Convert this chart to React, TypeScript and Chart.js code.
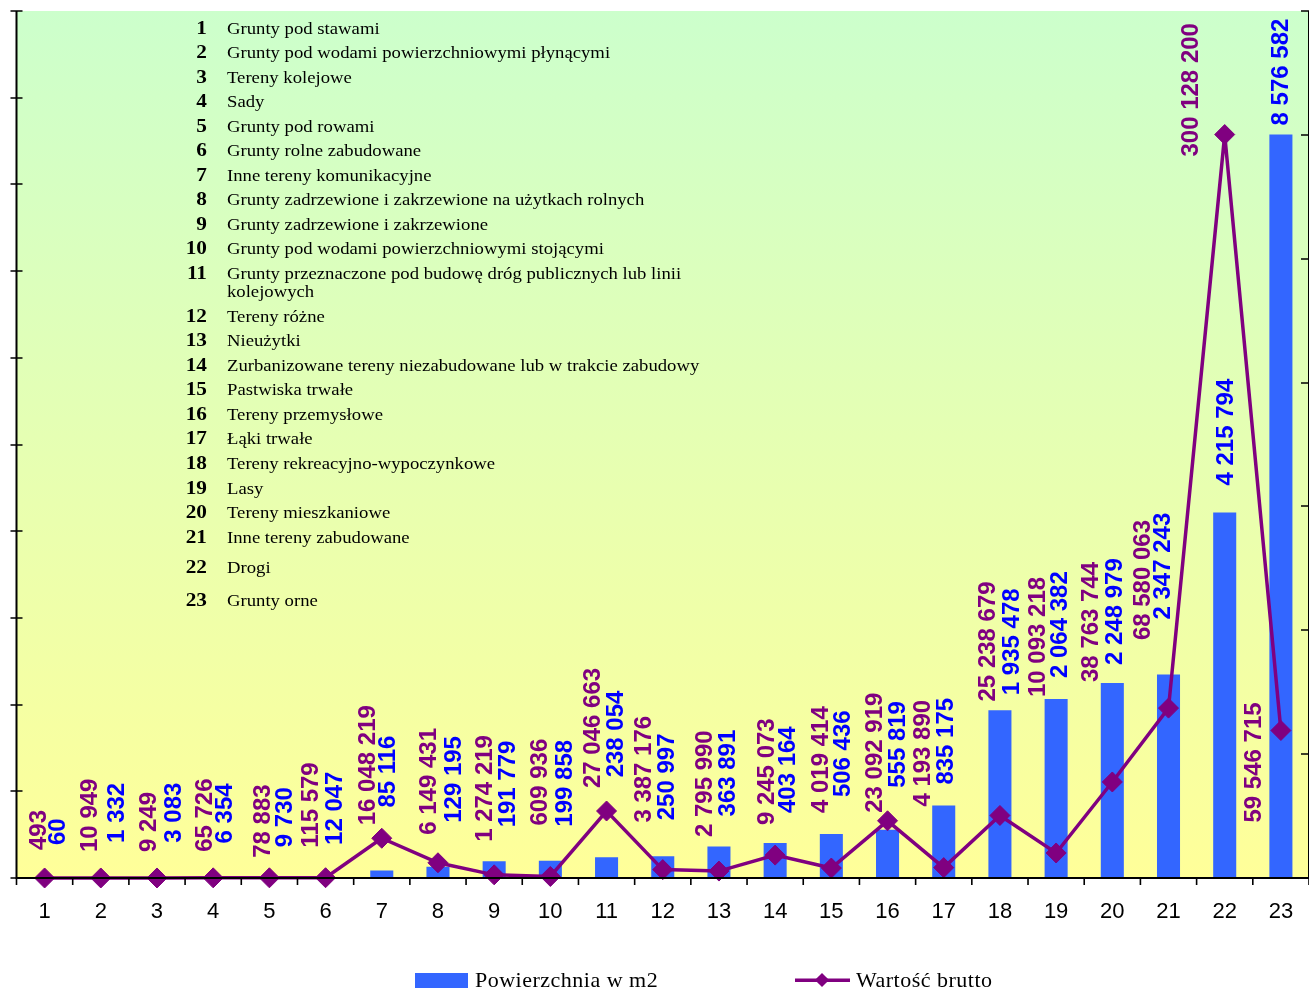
import React, { useEffect, useRef } from "react";
import { Chart, registerables } from "chart.js";

Chart.register(...registerables);

// ---------- data ----------
const categories = [
  "1", "2", "3", "4", "5", "6", "7", "8", "9", "10", "11", "12",
  "13", "14", "15", "16", "17", "18", "19", "20", "21", "22", "23",
];

const categoryNames = [
  "Grunty pod stawami",
  "Grunty pod wodami powierzchniowymi płynącymi",
  "Tereny kolejowe",
  "Sady",
  "Grunty pod rowami",
  "Grunty rolne zabudowane",
  "Inne tereny komunikacyjne",
  "Grunty zadrzewione i zakrzewione na użytkach rolnych",
  "Grunty zadrzewione i zakrzewione",
  "Grunty pod wodami powierzchniowymi stojącymi",
  "Grunty przeznaczone pod budowę dróg publicznych lub linii\nkolejowych",
  "Tereny różne",
  "Nieużytki",
  "Zurbanizowane tereny niezabudowane lub w trakcie zabudowy",
  "Pastwiska trwałe",
  "Tereny przemysłowe",
  "Łąki trwałe",
  "Tereny rekreacyjno-wypoczynkowe",
  "Lasy",
  "Tereny mieszkaniowe",
  "Inne tereny zabudowane",
  "Drogi",
  "Grunty orne",
];

const areaM2 = [
  60, 1332, 3083, 6354, 9730, 12047, 85116, 129195, 191779, 199858, 238054,
  250997, 363891, 403164, 506436, 555819, 835175, 1935478, 2064382, 2248979,
  2347243, 4215794, 8576582,
];

const grossValue = [
  493, 10949, 9249, 65726, 78883, 115579, 16048219, 6149431, 1274219, 609936,
  27046663, 3387176, 2795990, 9245073, 4019414, 23092919, 4193890, 25238679,
  10093218, 38763744, 68580063, 300128200, 59546715,
];

const seriesNames = ["Powierzchnia w m2", "Wartość brutto"];

// axis ranges (ticks unlabeled)
const areaAxisMax = 10000000;
const areaAxisStep = 1000000;
const valueAxisMax = 350000000;
const valueAxisStep = 50000000;

// label placement: [dx, dy] in px relative to the drawn point / bar top
const valueLabelOffsets = [
  [-7, -28], [-12, -26], [-10, -26], [-10, -26], [-8, -20], [-16, -30],
  [-15, -13], [-11, -28], [-11, -33], [-12, -51], [-15, -23], [-20, -47],
  [-16, -34], [-10, -30], [-12, -55], [-14, -8], [-22, -61], [-14, -114],
  [-20, -156], [-23, -100], [-27, -68], [-35, 22], [-28, 92],
];
const areaLabelOffsets = [
  [12, -33], [15, -35], [15, -35], [10, -34], [14, -30], [8, -32],
  [5, -63], [14, -44], [12, -34], [13, -34], [8, -80], [3, -36],
  [7, -30], [11, -30], [10, -37], [9, -42], [1, -21], [10, -15],
  [2, -21], [1, -18], [-7, -55], [0, -27], [-1, -9],
];

// ---------- style ----------
const BAR_COLOR = "#3366FF";
const LINE_COLOR = "#800080";
const AREA_LABEL_COLOR = "#0000FF";
const SANS = '"Liberation Sans", Arial, sans-serif';
const SERIF = '"Liberation Serif", "Times New Roman", serif';

const fmt = (n: number) =>
  String(n).replace(/\B(?=(\d{3})+(?!\d))/g, " ");

const decorPlugin = {
  id: "decor",
  beforeDatasetsDraw(chart: any) {
    const { ctx, chartArea: a } = chart;
    const g = ctx.createLinearGradient(0, a.top, 0, a.bottom);
    g.addColorStop(0, "#CCFFCC");
    g.addColorStop(1, "#FFFF99");
    ctx.save();
    ctx.fillStyle = g;
    ctx.fillRect(a.left, a.top, a.right - a.left, a.bottom - a.top);
    ctx.restore();
  },
  afterDatasetsDraw(chart: any) {
    const { ctx, chartArea: a, scales } = chart;
    const xs = scales.x;
    const ys = scales.y;
    const y2s = scales.y2;
    ctx.save();
    ctx.strokeStyle = "#000";
    ctx.lineWidth = 2;
    ctx.beginPath();
    ctx.moveTo(a.left, a.top);
    ctx.lineTo(a.left, a.bottom);
    ctx.lineTo(a.right, a.bottom);
    ctx.lineTo(a.right, a.top);
    ctx.stroke();

    ctx.lineWidth = 1.6;
    ctx.beginPath();
    for (let v = 0; v <= areaAxisMax; v += areaAxisStep) {
      const py = Math.round(ys.getPixelForValue(v));
      ctx.moveTo(a.left - 6, py);
      ctx.lineTo(a.left + 6, py);
    }
    for (let v = 0; v <= valueAxisMax; v += valueAxisStep) {
      const py = Math.round(y2s.getPixelForValue(v));
      ctx.moveTo(a.right - 8, py);
      ctx.lineTo(a.right + 6, py);
    }
    const half =
      (xs.getPixelForValue(1) - xs.getPixelForValue(0)) / 2;
    for (let i = 0; i <= categories.length; i++) {
      const px =
        i < categories.length
          ? xs.getPixelForValue(i) - half
          : xs.getPixelForValue(i - 1) + half;
      ctx.moveTo(px, a.bottom);
      ctx.lineTo(px, a.bottom + 7);
    }
    ctx.stroke();

    // category tick labels
    ctx.fillStyle = "#000";
    ctx.font = `22px ${SANS}`;
    ctx.textAlign = "center";
    ctx.textBaseline = "alphabetic";
    categories.forEach((c, i) => {
      ctx.fillText(c, xs.getPixelForValue(i), a.bottom + 40);
    });

    // vertical data labels
    const fs = 24;
    ctx.font = `bold ${fs}px ${SANS}`;
    ctx.textAlign = "left";
    const drawV = (text: string, cx: number, by: number, color: string) => {
      ctx.save();
      ctx.fillStyle = color;
      ctx.translate(cx + 0.358 * fs, by);
      ctx.rotate(-Math.PI / 2);
      ctx.fillText(text, 0, 0);
      ctx.restore();
    };
    const barMeta = chart.getDatasetMeta(0);
    const lineMeta = chart.getDatasetMeta(1);
    for (let i = 0; i < categories.length; i++) {
      const p = lineMeta.data[i];
      const b = barMeta.data[i];
      const [dxv, dyv] = valueLabelOffsets[i];
      drawV(fmt(grossValue[i]), p.x + dxv, p.y + dyv, LINE_COLOR);
      const [dxa, dya] = areaLabelOffsets[i];
      drawV(fmt(areaM2[i]), b.x + dxa, b.y + dya, AREA_LABEL_COLOR);
    }
    ctx.restore();
  },
};

// list of category names (layout: baselines)
function listBaselines(): number[][] {
  const out: number[][] = [];
  for (let i = 0; i < categoryNames.length; i++) {
    const n = i + 1;
    let y: number;
    if (n <= 11) y = 34 + (n - 1) * 24.5;
    else if (n <= 21) y = 321.7 + (n - 12) * 24.55;
    else if (n === 22) y = 572.7;
    else y = 606;
    const lines = categoryNames[i].split("\n");
    out.push(lines.map((_, k) => y + k * 18));
  }
  return out;
}

export default function App() {
  const canvasRef = useRef<HTMLCanvasElement | null>(null);

  useEffect(() => {
    if (!canvasRef.current) return;
    const chart = new Chart(canvasRef.current, {
      type: "bar",
      data: {
        labels: categories,
        datasets: [
          {
            type: "bar",
            label: seriesNames[0],
            data: areaM2,
            backgroundColor: BAR_COLOR,
            borderWidth: 0,
            yAxisID: "y",
            barPercentage: 0.41,
            categoryPercentage: 1,
            order: 2,
          } as any,
          {
            type: "line",
            label: seriesNames[1],
            data: grossValue,
            borderColor: LINE_COLOR,
            backgroundColor: LINE_COLOR,
            borderWidth: 3.5,
            pointStyle: "rectRot",
            pointRadius: 10,
            pointHoverRadius: 10,
            pointBackgroundColor: LINE_COLOR,
            pointBorderColor: LINE_COLOR,
            pointBorderWidth: 1,
            tension: 0,
            yAxisID: "y2",
            order: 1,
            clip: false,
          } as any,
        ],
      },
      options: {
        responsive: false,
        animation: false,
        events: [],
        layout: { padding: { left: 16.5, top: 11, right: 5.5, bottom: 112 } },
        plugins: { legend: { display: false }, tooltip: { enabled: false } },
        scales: {
          x: { type: "category", display: false, offset: true },
          y: { display: false, min: 0, max: areaAxisMax },
          y2: { display: false, min: 0, max: valueAxisMax, position: "right" },
        },
      },
      plugins: [decorPlugin],
    });
    return () => chart.destroy();
  }, []);

  const sx = 1.12;
  const baselines = listBaselines();

  return (
    <div
      style={{
        position: "fixed",
        left: 0,
        top: 0,
        width: 1309,
        height: 990,
        overflow: "hidden",
        background: "#fff",
      }}
    >
      <canvas
        ref={canvasRef}
        width={1320}
        height={990}
        style={{ display: "block", position: "absolute", left: 0, top: 0 }}
      />
      <svg
        width={1309}
        height={990}
        style={{ position: "absolute", left: 0, top: 0, pointerEvents: "none" }}
      >
        <g transform={`scale(${sx},1)`} fontFamily={SERIF} fill="#000">
          {categoryNames.map((name, i) => (
            <g key={i}>
              <text
                x={207 / sx}
                y={baselines[i][0]}
                textAnchor="end"
                fontWeight="bold"
                fontSize={19}
              >
                {categories[i]}
              </text>
              {name.split("\n").map((line, k) => (
                <text key={k} x={227 / sx} y={baselines[i][k]} fontSize={16.7}>
                  {line}
                </text>
              ))}
            </g>
          ))}
        </g>
        <g fontFamily={SERIF} fontSize={22} fill="#000" letterSpacing={0.5}>
          <rect x={415} y={973} width={53} height={15} fill={BAR_COLOR} />
          <text x={475} y={987}>{seriesNames[0]}</text>
          <rect x={795} y={978.5} width={55} height={3.5} fill={LINE_COLOR} />
          <rect
            x={817}
            y={975}
            width={10}
            height={10}
            fill={LINE_COLOR}
            transform="rotate(45 822 980)"
          />
          <text x={856} y={987}>{seriesNames[1]}</text>
        </g>
      </svg>
    </div>
  );
}
